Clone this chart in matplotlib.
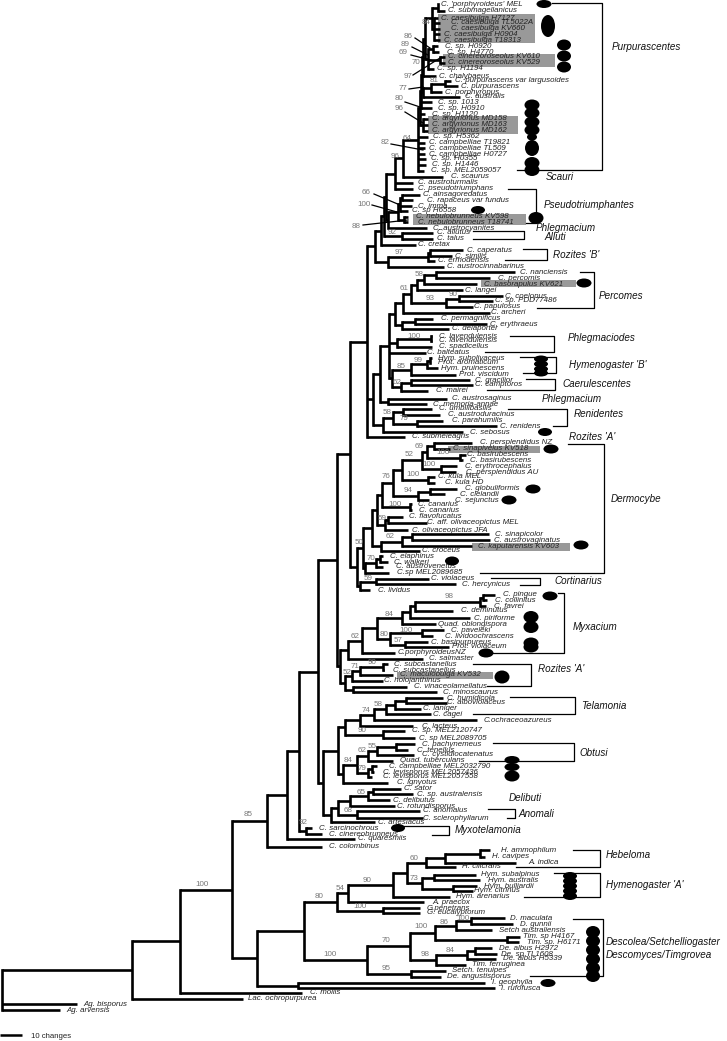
import matplotlib
matplotlib.use("Agg")
import matplotlib.pyplot as plt
from matplotlib.patches import Ellipse, Rectangle

plt.rcParams['font.family'] = ['Liberation Sans', 'DejaVu Sans']

# taxa, top to bottom. tree below refers to them by row number (from 1)
taxa = [
    "C. 'porphyroideus' MEL", "C. submagellanicus", "C. caesibulga H7127", "C. caesibulga TL5022A",
    "C. caesibulga KV660", "C. caesibulga H0904", "C. caesibulga T18313", "C. sp. H0920", "C. sp. H4770",
    "C. cinereoroseolus KV610", "C. cinereoroseolus KV529", "C. sp. H1194", "C. chalybaeus",
    "C. purpurascens var largusoides", "C. purpurascens", "C. porphyropus", "C. australis", "C. sp. 1013",
    "C. sp. H0910", "C. sp. H1120", "C. argyrionus MD158", "C. argyrionus MD163", "C. argyrionus MD162",
    "C. sp. H5362", "C. campbelliae T19821", "C. campbelliae TL509", "C. campbelliae H0727", "C. sp. H0355",
    "C. sp. H1446", "C. sp. MEL2059057", "C. scaurus", "C. austroturmalis", "C. pseudotriumphans",
    "C. ainsagoredatus", "C. rapaceus var fundus", "C. imma", "C. sp H6558", "C. nebulobrunneus KV598",
    "C. nebulobrunneus T18741", "C. austrocyanites", "C. allutus", "C. talus", "C. cretax", "C. caperatus",
    "C. similis", "C. ermodensis", "C. austrocinnabarinus", "C. nanciensis", "C. percomis",
    "C. basorapulus KV621", "C. langei", "C. coelopus", "C. sp. PDD77486", "C. papulosus", "C. archeri",
    "C. permagnificus", "C. erythraeus", "C. delaporter", "C. lavendulensis", "C. lavendulensis",
    "C. spadicellus", "C. balteatus", "Hym. subolivaceus", "Prot. aromaticum", "Hym. pruinescens",
    "Prot. viscidum", "C. gracilior", "C. camptoros", "C. mairei", "C. austrosaginus", "C. memoria-annae",
    "C. umbilibasilis", "C. austroduracinus", "C. parahumilis", "C. renidens", "C. sebosus", "C. submeleagris",
    "C. persplendidus NZ", "C. sinapivelus KV518", "C. basirubescens", "C. basirubescens",
    "C. erythrocephalus", "C. persplendidus AU", "C. kula MEL", "C. kula HD", "C. globuliformis", "C. clelandii",
    "C. sejunctus", "C. canarius", "C. canarius", "C. flavofucatus", "C. aff. olivaceopictus MEL",
    "C. olivaceopictus JFA", "C. sinapicolor", "C. austrovaginatus", "C. kaputarensis KV603", "C. croceus",
    "C. elaphinus", "C. walkeri", "C. austrovenetus", "C.sp MEL2089685", "C. violaceus", "C. hercynicus",
    "C. lividus", "C. pingue", "C. collinitus", "C. favrei", "C. deminutus", "C. piriforme",
    "Quad. oblongispora", "C. paveleki", "C. lividoochrascens", "C. basipurpureus", "Prot. violaceum",
    "C.porphyroideusNZ", "C. salmaster", "C. subcastanellus", "C. subcastanellus", "C. maculobulga KV532",
    "C. holojanthinus", "C. vinaceolamellatus", "C. minoscaurus", "C. humidicola", "C. alboviolaceus",
    "C. laniger", "C. cagei", "C.ochraceoazureus", "C. lacteus", "C. sp. MEL2120747", "C. sp MEL2089705",
    "C. pachynemeus", "C. tenellus", "C. cystidiocatenatus", "Quad. tuberculans", "C. campbelliae MEL2032790",
    "C. levisporus MEL2057436", "C. levisporus MEL2057558", "C. ignyotus", "C. sator", "C. sp. australensis",
    "C. delibutus", "C. rotundisporus", "C. anomalus", "C. sclerophyllarum", "C. artesiacus", "C. sarcinochrous",
    "C. cinereobrunneus", "C. quaresmiis", "C. colombinus", "H. ammophilum", "H. cavipes", "A. indica",
    "H. cilicrans", "Hym. subalpinus", "Hym. australis", "Hym. bulliardii", "Hym. citrinus", "Hym. arenarius",
    "A. praecox", "G.penetrans", "G. eucalyptorum", "D. maculata", "D. gunnii", "Setch australiensis",
    "Tim. sp H4167", "Tim. sp. H6171", "De. albus H2972", "De. sp TL1608", "De. albus H5339", "Tim. ferruginea",
    "Setch. tenuipes", "De. angustisporus", "I. geophylla", "I. rufofusca", "C. mollis", "Lac. ochropurpurea",
    "Ag. bisporus", "Ag. arvensis",
]
label_x = [
    441, 448, 441, 451, 451, 444, 444, 445, 447, 448, 448, 437, 439, 455, 461, 445, 465, 438, 438, 432,
    432, 432, 432, 433, 429, 429, 429, 431, 432, 431, 451, 418, 418, 423, 427, 418, 412, 416, 418, 433,
    437, 437, 418, 467, 455, 438, 447, 520, 498, 484, 465, 505, 495, 474, 491, 441, 490, 452, 439, 439,
    439, 427, 438, 438, 441, 459, 475, 475, 436, 452, 433, 439, 448, 452, 500, 470, 412, 480, 453, 467,
    470, 465, 466, 438, 445, 465, 460, 455, 418, 419, 409, 427, 412, 495, 494, 478, 422, 390, 394, 396,
    397, 431, 462, 378, 503, 495, 494, 461, 474, 438, 451, 445, 431, 452, 398, 429, 394, 393, 400, 384,
    414, 443, 447, 447, 423, 433, 484, 422, 412, 419, 422, 417, 422, 400, 389, 383, 383, 397, 404, 417,
    393, 397, 423, 423, 378, 319, 329, 358, 329, 501, 492, 528, 462, 481, 488, 484, 474, 456, 432, 427,
    427, 510, 520, 499, 523, 527, 499, 501, 503, 472, 452, 447, 492, 501, 310, 248, 83, 66,
]
tip_x = [
    438, 445, 438, 440, 440, 440, 440, 438, 439, 445, 445, 434, 436, 451, 458, 442, 460, 432, 432, 425,
    428, 428, 428, 428, 425, 425, 425, 426, 426, 424, 443, 413, 413, 420, 413, 412, 408, 408, 408, 427,
    433, 433, 416, 463, 452, 435, 444, 515, 490, 477, 463, 503, 493, 473, 490, 433, 487, 449, 432, 432,
    432, 426, 432, 430, 438, 456, 470, 473, 428, 447, 427, 432, 440, 443, 497, 463, 405, 472, 450, 466,
    463, 457, 456, 435, 435, 457, 445, 429, 412, 412, 403, 427, 408, 489, 490, 472, 420, 383, 388, 383,
    389, 429, 456, 370, 495, 487, 486, 453, 470, 436, 444, 433, 428, 449, 395, 423, 388, 384, 393, 383,
    407, 437, 443, 447, 421, 431, 477, 413, 405, 415, 415, 408, 414, 393, 377, 374, 372, 388, 401, 413,
    390, 395, 420, 423, 375, 312, 322, 355, 322, 490, 485, 516, 456, 476, 480, 477, 473, 450, 424, 420,
    420, 505, 513, 492, 520, 519, 492, 497, 496, 466, 446, 441, 485, 495, 302, 243, 77, 60,
]
tip_y = [
    4, 11, 18, 23, 29, 34, 40, 46, 52, 57, 63, 69, 76, 81, 86, 92, 97, 102, 108, 114,
    119, 125, 131, 137, 143, 148, 154, 159, 165, 171, 177, 183, 189, 195, 200, 206, 211, 217, 222, 228,
    233, 239, 245, 250, 256, 261, 267, 272, 278, 284, 290, 296, 301, 307, 313, 319, 324, 329, 336, 341,
    347, 353, 358, 363, 368, 375, 380, 385, 391, 399, 404, 409, 415, 421, 426, 432, 437, 443, 449, 455,
    460, 466, 472, 477, 483, 489, 494, 500, 504, 510, 517, 523, 530, 534, 540, 546, 551, 556, 562, 567,
    573, 579, 584, 590, 595, 600, 606, 611, 618, 624, 630, 636, 642, 647, 653, 659, 664, 670, 675, 681,
    687, 692, 698, 703, 709, 714, 720, 726, 731, 738, 744, 750, 755, 761, 766, 772, 777, 783, 789, 794,
    800, 806, 811, 818, 822, 828, 834, 839, 847, 850, 857, 863, 867, 875, 880, 886, 891, 897, 902, 908,
    913, 918, 924, 930, 937, 942, 948, 954, 959, 965, 971, 977, 983, 988, 993, 999, 1004, 1010,
]

# tree: (node depth, [children]), a child is a subtree or a taxon row
caesibulga = (432, [(438, [1, 2]), (434, [3, 4, 5, 6, 7])])
cinereo = (428, [(433, [8, 9]), (440, [10, 11]), 12])
purp_top = (423, [(425, [caesibulga, cinereo]), 13])
purp_low = (423, [(431, [(445, [14, 15]), 16]), 17])
purp_spine = (421, [(422, [purp_top, purp_low]), 18, 19])
argyr = (420, [purp_spine, 20, (423, [21, 22, 23])])
purp = (418, [argyr, 24, 25, 26, 27, 28, 29, 30])
scauri = (395, [(403, [purp, 31]), 32, 33])
pseudotr = (388, [(398, [(400, [(402, [34, 35]), 36, 37]), (404, [38, 39])]), 40])
alluti = (384, [(386, [scauri, pseudotr]), (402, [41, 42])])
rozites_b = (388, [(428, [(430, [44, 45]), 46]), 47])
upper_a = (375, [(381, [alluti, 43]), rozites_b])

percomes_a = (417, [(424, [(436, [48, 49]), 50]), 51])
percomes_b = (446, [(459, [52, 53]), 54])
percomes = (403, [(411, [percomes_a, percomes_b]), 55])
permag = (402, [(415, [56, 57]), 58])
phlegmaciodes = (397, [(431, [59, 60]), 61])
hymen_b = (411, [(427, [(430, [63, 64]), 65]), 66])
caerul = (401, [(411, [67, 68]), 69])
phleg = (389, [(395, [percomes, permag]), phlegmaciodes, 62, (392, [hymen_b, caerul])])
renid = (383, [(393, [(403, [72, 73]), (417, [74, 75])]), 76])
upper_b = (373, [(380, [phleg, (388, [70, 71])]), renid])
upper = (367, [upper_a, upper_b, 77])

derm_a = (427, [(434, [78, 79]), (460, [80, 81])])
derm_b = (402, [(422, [derm_a, (441, [82, 83])]), (428, [84, 85])])
derm_c = (418, [(430, [86, 87]), 88])
derm_d = (382, [(393, [derm_b, derm_c]), (410, [89, 90])])
derm_e = (385, [(388, [91, 92]), 93])
derm_f = (381, [(402, [(412, [94, 95]), 96]), 97])
derm = (372, [(377, [derm_d, derm_e]), derm_f])
elaph = (365, [(376, [(380, [98, 99]), 100]), 101])
cort = (360, [(376, [102, 103]), 104])
middle = (350, [upper, (357, [(363, [derm, elaph]), cort])])

myx_a = (410, [(415, [(480, [(483, [105, 106]), 107]), 108]), 109])
myx_b = (390, [(422, [111, 112]), (405, [113, 114])])
myx = (348, [(362, [(377, [(402, [myx_a, 110]), myx_b]), 115]), 116])
roz_a = (352, [(360, [(383, [117, 118]), 119]), 120])
myx_all = (340, [myx, (345, [roz_a, (353, [121, 122])])])

telam = (374, [(386, [(395, [(406, [123, 124]), 125]), 126]), 127])
telam_all = (345, [(360, [telam, 128]), (383, [129, 130])])
obt_a = (368, [(377, [(396, [131, 132]), 133]), 134])
obt_b = (368, [(372, [135, 136]), 137])
obtusi = (343, [(357, [obt_a, obt_b]), 138])
delib = (350, [(368, [(373, [139, 140]), 141]), 142])
delib_all = (331, [(338, [delib, (357, [143, 144])]), 145])
cort_core = (318, [(337, [middle, myx_all]), (323, [(338, [telam_all, obtusi]), delib_all])])
cort_all = (267, [(287, [(299, [cort_core, (306, [146, 147])]), 148]), 149])

heb = (426, [(445, [(480, [150, 151]), 152]), 153])
hym_a = (422, [(434, [154, 155]), (453, [156, 157])])
hymeno = (393, [(407, [heb, hym_a]), 158])
gym = (337, [(348, [hymeno, 159]), (383, [160, 161])])
desc_a = (435, [(456, [(471, [162, 163]), 164]), (507, [165, 166])])
desc_b = (436, [(467, [(475, [167, 168]), 169]), 170])
desc = (367, [(410, [desc_a, desc_b]), (411, [171, 172])])
outer = (257, [(304, [gym, desc]), (298, [173, 174])])
tree = (2, [(132, [(180, [(232, [cort_all, outer]), 175]), 176]), 177, 178])

# bootstrap values (text, x, y)
support = [
    ("84", 426, 22), ("81", 434, 81), ("70", 416, 62), ("64", 407, 138), ("96", 395, 156), ("92", 392, 232),
    ("97", 399, 253), ("58", 419, 275), ("61", 404, 288), ("93", 430, 299), ("90", 453, 295), ("100", 414, 336),
    ("99", 418, 361), ("85", 401, 366), ("62", 397, 382), ("58", 387, 413), ("79", 404, 419), ("69", 419, 447),
    ("100", 443, 453), ("52", 409, 455), ("100", 429, 464), ("100", 413, 474), ("76", 386, 476), ("94", 408, 490),
    ("100", 395, 505), ("59", 382, 519), ("62", 390, 537), ("50", 359, 542), ("70", 371, 559), ("59", 368, 578),
    ("98", 449, 597), ("84", 389, 614), ("100", 406, 630), ("80", 384, 634), ("57", 398, 641), ("62", 355, 636),
    ("90", 372, 663), ("71", 355, 667), ("52", 347, 673), ("58", 378, 705), ("74", 366, 711), ("90", 362, 731),
    ("62", 362, 750), ("55", 372, 746), ("84", 348, 760), ("79", 362, 768), ("65", 361, 792), ("68", 348, 810),
    ("92", 303, 823), ("85", 248, 815), ("100", 202, 884), ("60", 414, 858), ("90", 367, 880), ("73", 414, 878),
    ("54", 340, 888), ("80", 319, 897), ("100", 360, 907), ("100", 463, 918), ("86", 444, 922), ("100", 421, 927),
    ("70", 386, 940), ("84", 450, 951), ("98", 425, 955), ("100", 330, 955), ("95", 386, 968),
]
# values whose node is too crowded: (text, label x, label y, x0, y0, x1, y1)
leaders = [
    ("86", 408, 36, 415, 38, 430, 48), ("89", 405, 45, 412, 47, 428, 55), ("69", 403, 53, 411, 55, 434, 61),
    ("97", 408, 77, 413, 75, 440, 58), ("77", 403, 89, 409, 89, 423, 87), ("80", 399, 99, 405, 102, 420, 107),
    ("96", 399, 109, 405, 112, 423, 123), ("82", 385, 143, 391, 144, 423, 150), ("66", 366, 192, 374, 194, 400, 205),
    ("100", 364, 205, 372, 205, 397, 212), ("88", 356, 226, 363, 225, 408, 220),
]

clades = [
    ("Purpurascentes", 612, 47), ("Scauri", 546, 177), ("Pseudotriumphantes", 544, 205), ("Phlegmacium", 536, 228),
    ("Alluti", 544, 237), ("Rozites 'B'", 553, 255), ("Percomes", 599, 296), ("Phlegmaciodes", 568, 338),
    ("Hymenogaster 'B'", 569, 365), ("Caerulescentes", 562, 384), ("Phlegmacium", 542, 399), ("Renidentes", 574, 414),
    ("Rozites 'A'", 569, 437), ("Dermocybe", 611, 499), ("Cortinarius", 554, 581), ("Myxacium", 573, 627),
    ("Rozites 'A'", 538, 669), ("Telamonia", 581, 706), ("Obtusi", 579, 753), ("Delibuti", 509, 798),
    ("Anomali", 518, 814), ("Myxotelamonia", 455, 830), ("Hebeloma", 606, 855), ("Hymenogaster 'A'", 606, 885),
    ("Descolea/Setchelliogaster", 606, 942), ("Descomyces/Timgrovea", 606, 955),
]
# brackets: top left x, right x, bottom left x, top y, bottom y
brackets = [
    (552, 602, 517, 3, 170), (508, 536, 526, 189, 223), (473, 524, 473, 231, 239), (523, 547, 505, 249, 260),
    (580, 594, 537, 272, 308), (510, 554, 485, 336, 352), (520, 556, 523, 357, 373), (526, 555, 487, 379, 390),
    (508, 567, 553, 409, 426), (568, 604, 480, 444, 573), (491, 540, 520, 578, 585), (558, 564, 490, 593, 653),
    (473, 531, 487, 664, 686), (510, 575, 473, 697, 714), (493, 574, 479, 743, 761), (488, 515, 507, 809, 818),
    (400, 449, 432, 826, 835), (573, 600, 516, 850, 867), (554, 600, 524, 873, 897), (573, 603, 530, 919, 976),
]
# grey highlighted taxa: x0, y0, x1, y1
grey_bars = [
    (438, 14, 535, 43), (443, 54, 555, 67), (428, 116, 518, 134), (413, 214, 526, 225), (481, 280, 576, 287),
    (448, 446, 540, 453), (472, 543, 570, 551), (397, 672, 493, 679),
]
# black ovals: x, y, width, height
ovals = [
    (544, 4, 15, 8), (548, 26, 14, 22), (564, 45, 14, 11), (564, 56, 14, 11), (564, 67, 14, 11),
    (532, 105, 15, 11), (532, 113, 15, 11), (532, 122, 15, 11), (532, 130, 15, 11), (532, 137, 10, 7),
    (532, 148, 14, 16), (532, 163, 15, 12), (532, 170, 15, 12), (478, 210, 14, 8), (536, 218, 15, 12),
    (584, 283, 15, 9), (541, 359, 14, 7), (541, 364, 14, 7), (541, 369, 14, 7), (541, 373, 14, 7),
    (545, 432, 14, 8), (551, 449, 15, 9), (533, 489, 15, 9), (509, 500, 15, 9), (581, 545, 15, 9),
    (452, 561, 14, 9), (550, 596, 15, 9), (531, 617, 15, 12), (531, 627, 15, 12), (531, 643, 15, 11),
    (531, 647, 15, 11), (486, 653, 15, 9), (502, 677, 15, 13), (512, 760, 15, 8), (512, 767, 15, 8),
    (512, 776, 15, 11), (398, 828, 14, 8), (570, 876, 14, 8), (570, 881, 14, 8), (570, 886, 14, 8),
    (570, 891, 14, 8), (570, 896, 14, 8), (593, 932, 14, 12), (593, 941, 14, 12), (593, 950, 14, 12),
    (593, 959, 14, 12), (593, 968, 14, 12), (593, 976, 14, 12), (548, 983, 15, 8),
]

fig = plt.figure(figsize=(7.27, 10.41), dpi=100)
ax = fig.add_axes([0, 0, 1, 1])
ax.set_xlim(0, 727)
ax.set_ylim(1041, 0)
ax.axis('off')


def draw(node, parent_x=None):
    # returns y of node, drawn halfway between first and last child
    if isinstance(node, int):
        x, y = tip_x[node - 1], tip_y[node - 1]
    else:
        x, children = node
        ys = [draw(c, x) for c in children]
        y = (ys[0] + ys[-1]) / 2
        ax.plot([x, x], [min(ys), max(ys)], color='black', lw=1.9, solid_capstyle='projecting', zorder=3)
    if parent_x is not None:
        ax.plot([parent_x, x], [y, y], color='black', lw=1.9, solid_capstyle='butt', zorder=3)
    return y


for x0, y0, x1, y1 in grey_bars:
    ax.add_patch(Rectangle((x0, y0), x1 - x0, y1 - y0, color='#999999', lw=0, zorder=1))

draw(tree)

for name, x, y in zip(taxa, label_x, tip_y):
    ax.text(x, y, name, fontsize=5.7, style='italic', color='#222222', va='center', ha='left', zorder=5)

for text, x, y in support:
    ax.text(x, y, text, fontsize=5.8, color='#777777', va='center', ha='center', zorder=5)

for text, lx, ly, x0, y0, x1, y1 in leaders:
    ax.text(lx, ly, text, fontsize=5.8, color='#777777', va='center', ha='center', zorder=5)
    ax.plot([x0, x1], [y0, y1], color='black', lw=0.9, zorder=4)

for x_top, x_right, x_bottom, y_top, y_bottom in brackets:
    ax.plot([x_top, x_right, x_right, x_bottom], [y_top, y_top, y_bottom, y_bottom],
            color='black', lw=0.9, zorder=2)

for x, y, w, h in ovals:
    ax.add_patch(Ellipse((x, y), w, h, color='black', lw=0, zorder=6))

for name, x, y in clades:
    ax.text(x, y, name, fontsize=7.1, style='italic', color='#111111', va='center', ha='left', zorder=5)

# scale bar
ax.plot([0, 22], [1035, 1035], color='black', lw=1.8, solid_capstyle='butt')
ax.text(31, 1037, "10 changes", fontsize=5.6, color='#222222', va='center', ha='left')

fig.savefig("out.png", dpi=100)
